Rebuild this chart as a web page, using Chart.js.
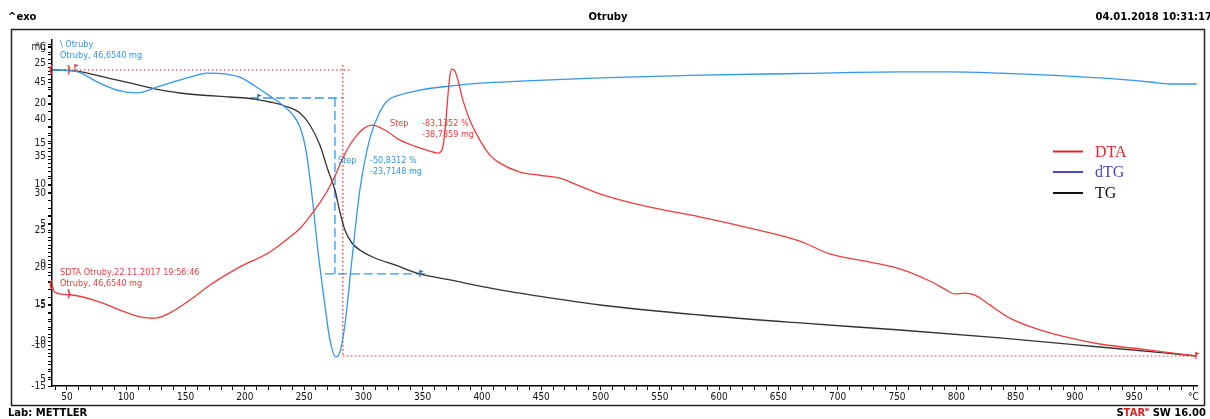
<!DOCTYPE html>
<html lang="cs">
<head>
<meta charset="utf-8">
<title>Otruby</title>
<script src="https://cdn.jsdelivr.net/npm/chart.js@4.4.1/dist/chart.umd.min.js"></script>
<style>
html, body { margin: 0; padding: 0; background: #fff; }
#box { position: relative; width: 1210px; height: 419px; }
</style>
</head>
<body>
<div id="box"><canvas id="chart-area" width="1210" height="419"></canvas></div>

<script>
// krivky (teplota v °C)
var dtaT = [37.4, 39.9, 52.5, 77.8, 94.7, 111.6, 124.2, 136.8, 153.7, 170.6, 195.9, 221.2, 238.0, 246.5, 254.9, 263.3, 270.1, 276.0, 282.7, 288.6, 295.3, 301.3, 307.2, 318.1, 330.8, 343.4, 353.5, 362.8, 367.0, 369.6, 371.3, 373.0, 374.6, 377.2, 379.7, 383.9, 389.8, 398.2, 406.7, 415.1, 432.0, 448.8, 465.7, 482.6, 499.4, 516.3, 541.6, 583.7, 625.9, 668.0, 693.3, 727.1, 752.4, 777.6, 790.3, 798.7, 807.2, 815.6, 828.2, 845.1, 870.4, 895.7, 921.0, 963.1, 1002.8];
var dtaV = [-2.5, -3.4, -3.7, -4.6, -5.6, -6.45, -6.6, -5.95, -4.35, -2.5, -0.25, 1.6, 3.45, 4.5, 6.0, 7.7, 9.3, 11.0, 13.25, 14.85, 16.2, 17.0, 17.3, 16.7, 15.45, 14.7, 14.2, 13.85, 14.6, 17.9, 21.0, 23.5, 24.25, 24.0, 22.9, 20.4, 17.9, 15.45, 13.6, 12.6, 11.5, 11.1, 10.75, 9.75, 8.8, 8.05, 7.15, 5.95, 4.55, 2.95, 1.35, 0.35, -0.5, -2.0, -3.0, -3.6, -3.5, -3.75, -4.95, -6.6, -8.05, -9.05, -9.8, -10.55, -11.3];

var dtgT = [37.4, 56.7, 77.8, 94.7, 109.0, 128.4, 153.7, 168.0, 183.2, 195.9, 208.5, 221.2, 233.8, 240.6, 246.5, 251.6, 256.6, 261.6, 267.5, 271.8, 276.8, 280.2, 284.4, 290.3, 297.0, 305.5, 313.9, 320.7, 330.8, 347.6, 372.9, 398.2, 432.0, 499.4, 583.7, 668.0, 752.4, 794.5, 836.7, 878.8, 921.0, 963.1, 980.0, 1002.8];
var dtgV = [24.15, 24.0, 22.5, 21.55, 21.3, 22.15, 23.25, 23.75, 23.65, 23.25, 22.15, 20.9, 19.55, 18.55, 17.1, 14.2, 8.65, 1.85, -4.95, -9.3, -11.4, -10.8, -7.45, 0.6, 9.25, 15.7, 18.95, 20.4, 21.05, 21.65, 22.15, 22.5, 22.75, 23.15, 23.5, 23.7, 23.9, 23.9, 23.75, 23.5, 23.15, 22.65, 22.4, 22.4];

var tgT = [37.4, 56.7, 77.8, 103.1, 128.4, 145.3, 162.1, 187.4, 208.5, 221.2, 233.8, 246.5, 254.9, 263.3, 270.1, 276.0, 280.2, 284.4, 290.3, 297.0, 309.7, 326.6, 347.6, 372.9, 415.1, 457.3, 499.4, 583.7, 668.0, 752.4, 836.7, 921.0, 1002.8];
var tgMg = [46.62, 46.49, 45.81, 44.87, 43.93, 43.52, 43.25, 42.98, 42.71, 42.31, 41.77, 40.83, 39.21, 36.52, 33.15, 30.46, 27.5, 25.07, 23.32, 22.38, 21.3, 20.36, 19.15, 18.34, 17.01, 15.93, 14.97, 13.62, 12.55, 11.6, 10.53, 9.31, 8.1];

// vyhodnoceni stupnu (null = preruseni cary)
var stepRedT = [37.4, 288.6, null, 282.7, 282.7, null, 282.7, 1005];
var stepRedMg = [46.62, 46.62, null, 47.3, 8.1, null, 8.1, 8.1];
var stepBlueT = [204.3, 282.7, null, 276.0, 276.0, null, 267.5, 351.9];
var stepBlueMg = [42.85, 42.85, null, 42.85, 19.15, null, 19.15, 19.15];

// popisky os
var xTickLabels = [50, 100, 150, 200, 250, 300, 350, 400, 450, 500, 550, 600, 650, 700, 750, 800, 850, 900, 950];
var leftTicks = [25, 20, 15, 10, 5, 0, -5, -10, -15];
var mgTicks = [45, 40, 35, 30, 25, 20, 15, 10, 5];

var xMin = 37.4, xMax = 1003;
var yMin = -15, yMax = 27.85;
var y2Min = 4.06, y2Max = 50.66;

var fontCond = '"DejaVu Sans Condensed", "Liberation Sans Narrow", "DejaVu Sans", sans-serif';
var red = '#f23b3b', blue = '#3396f2', dark = '#333333';

function pts(xs, ys) {
  return xs.map(function (x, i) {
    return { x: x === null ? xs[i - 1] : x, y: ys[i] };
  });
}

function mgToLeft(m) {
  return yMax - (y2Max - m) * (yMax - yMin) / (y2Max - y2Min);
}

var yLabels = [];
var xLabels = [];

var stareFrame = {
  id: 'stareFrame',
  afterDraw: function (chart) {
    var ctx = chart.ctx;
    var sx = chart.scales.x, sy = chart.scales.y, sy2 = chart.scales.y2;
    ctx.save();

    ctx.strokeStyle = '#222';
    ctx.lineWidth = 1.5;
    ctx.strokeRect(11.5, 29.5, 1193, 376);

    ctx.fillStyle = '#000';
    ctx.textBaseline = 'middle';
    ctx.font = 'bold 10px "DejaVu Sans", sans-serif';
    ctx.textAlign = 'left';
    ctx.fillText('^exo', 8, 17);
    ctx.fillText('Lab: METTLER', 8, 413);
    ctx.textAlign = 'center';
    ctx.fillText('Otruby', 608, 17);
    ctx.textAlign = 'right';
    ctx.fillText('04.01.2018 10:31:17', 1212, 17);

    // STARe SW 16.00
    var parts = [['S', '#000'], ['TAR', '#e02020'], ['e', '#e02020'], [' SW 16.00', '#000']];
    var total = 0;
    parts.forEach(function (p, i) {
      ctx.font = (i === 2 ? 'bold 6px' : 'bold 10px') + ' "DejaVu Sans", sans-serif';
      total += ctx.measureText(p[0]).width;
    });
    var px0 = 1206 - total;
    ctx.textAlign = 'left';
    parts.forEach(function (p, i) {
      ctx.font = (i === 2 ? 'bold 6px' : 'bold 10px') + ' "DejaVu Sans", sans-serif';
      ctx.fillStyle = p[1];
      ctx.fillText(p[0], px0, i === 2 ? 409 : 413);
      px0 += ctx.measureText(p[0]).width;
    });

    // texty v grafu
    var notes = [
      ['\\ Otruby', 60, 45, blue], ['Otruby, 46,6540 mg', 60, 56, blue],
      ['SDTA Otruby,22.11.2017 19:56:46', 60, 273, red], ['Otruby, 46,6540 mg', 60, 284, red],
      ['Step', 390, 124, red], ['-83,1352 %', 422, 124, red], ['-38,7859 mg', 422, 135, red],
      ['Step', 338, 161, blue], ['-50,8312 %', 370, 161, blue], ['-23,7148 mg', 370, 172, blue]
    ];
    ctx.font = '9px ' + fontCond;
    notes.forEach(function (n) {
      ctx.fillStyle = n[3];
      ctx.fillText(n[0], n[1], n[2]);
    });

    // meze integrace a vlajky
    ctx.font = 'bold 10px "DejaVu Sans", sans-serif';
    ctx.textAlign = 'center';
    ctx.fillStyle = red;
    ctx.fillText('(', sx.getPixelForValue(36.5), sy2.getPixelForValue(46.62));
    ctx.fillText(')', sx.getPixelForValue(51.5), sy2.getPixelForValue(46.62));
    ctx.fillText('(', sx.getPixelForValue(36.5), sy.getPixelForValue(-2.5));
    ctx.fillText(')', sx.getPixelForValue(51.5), sy.getPixelForValue(-3.7));

    function flag(t, yPix, col) {
      var x = sx.getPixelForValue(t);
      ctx.strokeStyle = col;
      ctx.fillStyle = col;
      ctx.lineWidth = 1.2;
      ctx.beginPath();
      ctx.moveTo(x, yPix + 3);
      ctx.lineTo(x, yPix - 4);
      ctx.stroke();
      ctx.beginPath();
      ctx.moveTo(x, yPix - 4);
      ctx.lineTo(x + 4, yPix - 2.5);
      ctx.lineTo(x, yPix - 1);
      ctx.fill();
    }
    flag(56.7, sy2.getPixelForValue(46.9), red);
    flag(211, sy2.getPixelForValue(42.85), '#2a6fd6');
    flag(347.6, sy2.getPixelForValue(19.15), '#2a6fd6');
    flag(1002, sy2.getPixelForValue(8.1), red);

    // legenda
    ctx.textAlign = 'left';
    ctx.font = '16px "Liberation Serif", "DejaVu Serif", serif';
    var ly = [151.5, 172, 193];
    chart.data.datasets.slice(0, 3).forEach(function (ds, i) {
      ctx.strokeStyle = ds.legendColor;
      ctx.lineWidth = 2;
      ctx.beginPath();
      ctx.moveTo(1053, ly[i]);
      ctx.lineTo(1083, ly[i]);
      ctx.stroke();
      ctx.fillStyle = ds.legendColor;
      ctx.fillText(ds.label, 1095, ly[i] + 1);
    });

    ctx.restore();
  }
};

var config = {
  type: 'line',
  data: {
    datasets: [
      { label: 'DTA', data: pts(dtaT, dtaV), borderColor: red, legendColor: '#e02828', yAxisID: 'y' },
      { label: 'dTG', data: pts(dtgT, dtgV), borderColor: blue, legendColor: '#4848c8', yAxisID: 'y' },
      { label: 'TG', data: pts(tgT, tgMg), borderColor: dark, legendColor: '#111111', yAxisID: 'y2' },
      { label: 'step-red', data: pts(stepRedT, stepRedMg), borderColor: '#e82020', borderWidth: 1.2,
        borderDash: [1.5, 2.5], yAxisID: 'y2', cubicInterpolationMode: 'default', tension: 0 },
      { label: 'step-blue', data: pts(stepBlueT, stepBlueMg), borderColor: blue, borderWidth: 1.3,
        borderDash: [9, 4], yAxisID: 'y2', cubicInterpolationMode: 'default', tension: 0 }
    ]
  },
  options: {
    responsive: false,
    animation: false,
    layout: { padding: { left: 14, right: 13, top: 40, bottom: 14 } },
    elements: {
      point: { radius: 0 },
      line: { borderWidth: 1.3, cubicInterpolationMode: 'monotone' }
    },
    plugins: { legend: { display: false }, tooltip: { enabled: false } },
    scales: {
      x: {
        type: 'linear',
        min: xMin,
        max: xMax,
        afterBuildTicks: function (s) {
          var t = [];
          xLabels = [];
          for (var v = 40; v <= 1000; v += 10) {
            t.push({ value: v });
            if (v === 1000) xLabels.push('°C');
            else xLabels.push(xTickLabels.indexOf(v) >= 0 ? String(v) : '');
          }
          s.ticks = t;
        },
        afterFit: function (s) { s.height = 19; },
        grid: { drawOnChartArea: false, drawTicks: true, tickLength: 4, color: '#000' },
        border: { display: true, color: '#000', width: 1.5 },
        ticks: {
          autoSkip: false, maxRotation: 0, padding: 1, color: '#111',
          font: { family: fontCond, size: 10 },
          callback: function (v, i) { return xLabels[i]; }
        }
      },
      y: {
        position: 'left',
        min: yMin,
        max: yMax,
        afterBuildTicks: function (s) {
          var t = [];
          yLabels = [];
          for (var v = -15; v <= 27; v++) {
            t.push({ value: v });
            yLabels.push(leftTicks.indexOf(v) >= 0 ? String(v) : '');
          }
          for (var m = 5; m <= 50; m++) {
            t.push({ value: mgToLeft(m) });
            yLabels.push(mgTicks.indexOf(m) >= 0 ? String(m) : '');
          }
          t.push({ value: 26.98 }); yLabels.push('mg');
          t.push({ value: 26.98 }); yLabels.push('°C');
          s.ticks = t;
        },
        afterFit: function (s) { s.width = 38; },
        grid: { drawOnChartArea: false, drawTicks: true, tickLength: 4, color: '#000' },
        border: { display: true, color: '#000', width: 1.5 },
        ticks: {
          autoSkip: false, padding: 2, color: '#222',
          font: { family: fontCond, size: 10 },
          callback: function (v, i) { return yLabels[i]; }
        }
      },
      y2: {
        display: false,
        min: y2Min,
        max: y2Max
      }
    }
  },
  plugins: [stareFrame]
};

window.onload = function () {
  var ctx = document.getElementById('chart-area').getContext('2d');
  window.myChart = new Chart(ctx, config);
};
</script>
</body>
</html>
